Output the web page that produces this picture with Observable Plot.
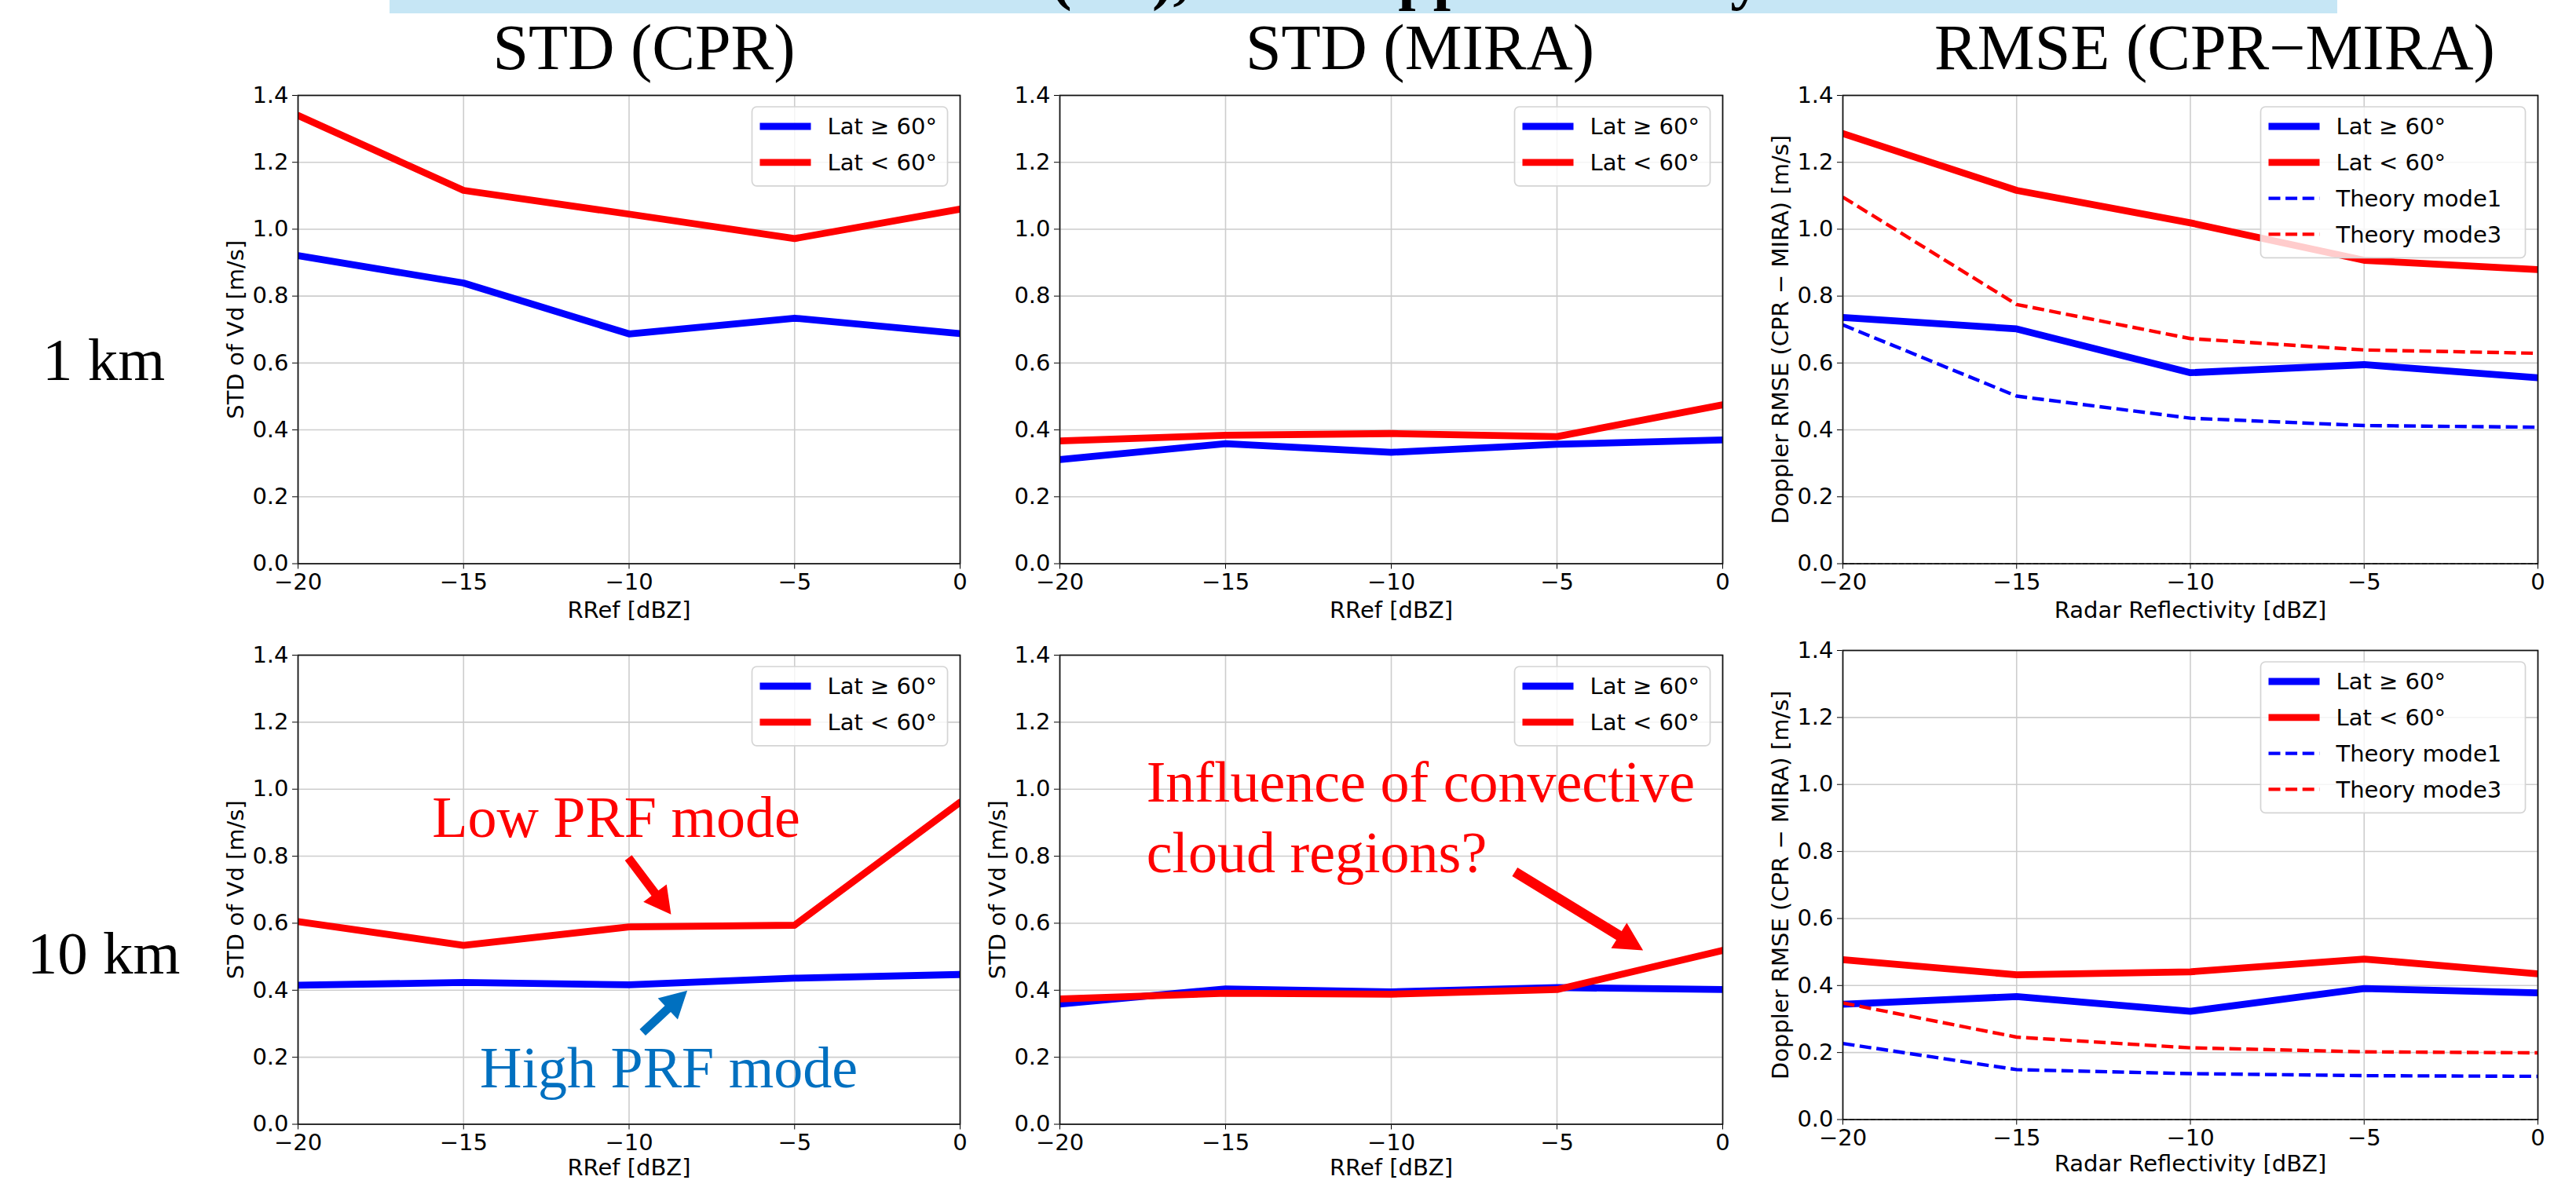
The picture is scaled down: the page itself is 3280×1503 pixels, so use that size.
<!DOCTYPE html>
<html><head><meta charset="utf-8">
<script src="https://cdn.jsdelivr.net/npm/d3@7"></script>
<script src="https://cdn.jsdelivr.net/npm/@observablehq/plot@0.6"></script>
<style>
html,body{margin:0;padding:0;background:#fff;}
#page{position:relative;width:3280px;height:1503px;overflow:hidden;background:#fff;}
</style></head><body><div id="page"></div>
<script>
// ---------- data ----------
const dbz = [-20, -15, -10, -5, 0];
const yTicks = [0, 0.2, 0.4, 0.6, 0.8, 1.0, 1.2, 1.4];
const zeroRef = [0];
const seriesLabels = ["Lat ≥ 60°", "Lat < 60°", "Theory mode1", "Theory mode3"];
const columnTitles = ["STD (CPR)", "STD (MIRA)", "RMSE (CPR−MIRA)"];
const rowLabels = ["1 km", "10 km"];
const xLabels = ["RRef [dBZ]", "RRef [dBZ]", "Radar Reflectivity [dBZ]"];
const yLabels = ["STD of Vd [m/s]", "STD of Vd [m/s]", "Doppler RMSE (CPR − MIRA) [m/s]"];
const bannerText = "(Vd), and Doppler velocity";

// 1 km
const stdCpr1High = [0.921, 0.839, 0.687, 0.734, 0.688];
const stdCpr1Low = [1.340, 1.116, 1.045, 0.972, 1.060];
const stdMira1High = [0.311, 0.359, 0.333, 0.357, 0.370];
const stdMira1Low = [0.367, 0.384, 0.389, 0.380, 0.475];
const rmse1High = [0.736, 0.702, 0.571, 0.595, 0.556];
const rmse1Low = [1.286, 1.116, 1.019, 0.907, 0.879];
const rmse1Mode1 = [0.714, 0.501, 0.435, 0.413, 0.408];
const rmse1Mode3 = [1.096, 0.775, 0.673, 0.639, 0.629];
// 10 km
const stdCpr10High = [0.415, 0.423, 0.416, 0.436, 0.447];
const stdCpr10Low = [0.605, 0.534, 0.589, 0.594, 0.961];
const stdMira10High = [0.359, 0.404, 0.395, 0.408, 0.402];
const stdMira10Low = [0.374, 0.391, 0.388, 0.402, 0.519];
const rmse10High = [0.344, 0.367, 0.323, 0.391, 0.378];
const rmse10Low = [0.477, 0.432, 0.441, 0.479, 0.435];
const rmse10Mode1 = [0.227, 0.149, 0.137, 0.131, 0.129];
const rmse10Mode3 = [0.348, 0.246, 0.214, 0.202, 0.199];

// annotations (data coordinates: dBZ, m/s)
const lowPrfText = [{text: "Low PRF mode", x: -10.39, y: 0.857}];
const highPrfText = [{text: "High PRF mode", x: -8.80, y: 0.109}];
const lowPrfArrow = [{x1: -10.01, y1: 0.794, x2: -8.72, y2: 0.625}];
const highPrfArrow = [{x1: -9.58, y1: 0.273, x2: -8.23, y2: 0.398}];
const convText = [{text: "Influence of convective", x: -17.39, y: 0.962}, {text: "cloud regions?", x: -17.39, y: 0.752}];
const convArrow = [{x1: -6.26, y1: 0.752, x2: -2.39, y2: 0.518}];

// ---------- styles ----------
const BLUE = "#0000ff", RED = "#ff0000", ANN_BLUE = "#0070c0";
const NS = "http://www.w3.org/2000/svg";
const SOLID_W = 8.8, DASH_W = 4.4, DASH = "15,6.6";
const page = document.getElementById("page");

function el(tag, attrs, text) {
  const e = document.createElementNS(NS, tag);
  for (const k in attrs) e.setAttribute(k, attrs[k]);
  if (text != null) e.textContent = text;
  return e;
}

function legendMark(entries, boxW) {
  return (index, scales, values, dims) => {
    const g = el("g", {});
    const right = dims.width - dims.marginRight - 15.5;
    const top = dims.marginTop + 15;
    const left = right - boxW;
    const step = 45.8;
    const h = 25 + (entries.length - 1) * step + 30;
    g.appendChild(el("rect", {x: left, y: top, width: boxW, height: h, rx: 6, ry: 6,
      fill: "white", "fill-opacity": 0.8, stroke: "#d4d4d4", "stroke-width": 1.7}));
    entries.forEach((e, i) => {
      const cy = top + 25 + i * step;
      const line = el("line", {x1: left + 10, x2: left + 75, y1: cy, y2: cy, stroke: e.color,
        "stroke-width": e.dash ? DASH_W : SOLID_W});
      if (e.dash) line.setAttribute("stroke-dasharray", DASH);
      g.appendChild(line);
      g.appendChild(el("text", {x: left + 96, y: cy, dy: "0.36em", "font-size": 29, fill: "black",
        "text-anchor": "start", "font-family": "DejaVu Sans, sans-serif"}, e.label));
    });
    return g;
  };
}

function arrowMark(data, color, shaft, headW, headL) {
  return (index, scales, values, dims) => {
    const g = el("g", {});
    for (const a of data) {
      const x1 = scales.x(a.x1), y1 = scales.y(a.y1), x2 = scales.x(a.x2), y2 = scales.y(a.y2);
      const dx = x2 - x1, dy = y2 - y1, L = Math.hypot(dx, dy);
      const ux = dx / L, uy = dy / L, nx = -uy, ny = ux;
      const bx = x2 - ux * headL, by = y2 - uy * headL, s = shaft / 2, hw = headW / 2;
      const pts = [[x1 + nx * s, y1 + ny * s], [bx + nx * s, by + ny * s], [bx + nx * hw, by + ny * hw],
        [x2, y2], [bx - nx * hw, by - ny * hw], [bx - nx * s, by - ny * s], [x1 - nx * s, y1 - ny * s]];
      g.appendChild(el("path", {d: "M" + pts.map(p => p[0].toFixed(2) + "," + p[1].toFixed(2)).join("L") + "Z", fill: color}));
    }
    return g;
  };
}

function seriesLine(values, color, dashed) {
  return Plot.line(values, {x: (d, i) => dbz[i], y: d => d, stroke: color,
    strokeWidth: dashed ? DASH_W : SOLID_W, strokeDasharray: dashed ? DASH : null,
    strokeLinejoin: "round", strokeLinecap: dashed ? "butt" : "round", clip: true});
}

function panel(opts) {
  const mL = 130, mR = 24, mT = 20, mB = 90;
  const marks = [
    Plot.ruleX(dbz, {stroke: "#cdcdcd", strokeWidth: 1.6}),
    Plot.ruleY(yTicks, {stroke: "#cdcdcd", strokeWidth: 1.6}),
    ...(opts.zero ? [Plot.ruleY(zeroRef, {stroke: "#404040", strokeWidth: 1.6, strokeDasharray: "6,3"})] : []),
    ...opts.lines,
    Plot.frame({stroke: "#111", strokeWidth: 1.7}),
    legendMark(opts.legend, opts.legendW),
    ...(opts.extra || []),
    Plot.text([opts.xLabel], {frameAnchor: "bottom", dy: opts.xdy, text: d => d, fontSize: 29,
      textAnchor: "middle", lineAnchor: "middle", fill: "black"})
  ];
  if (opts.yLabel) marks.push(Plot.text([opts.yLabel], {frameAnchor: "left", dx: -79, rotate: -90, text: d => d,
    fontSize: 29, textAnchor: "middle", lineAnchor: "middle", fill: "black"}));
  const svg = Plot.plot({
    width: opts.w + mL + mR, height: opts.h + mT + mB,
    marginLeft: mL, marginRight: mR, marginTop: mT, marginBottom: mB,
    style: {background: "transparent", fontFamily: "'DejaVu Sans', sans-serif", fontSize: "29px", color: "black", overflow: "visible"},
    x: {domain: [-20, 0], ticks: dbz, tickFormat: d3.format("d"), tickSize: 7, tickPadding: 5, label: null},
    y: {domain: [0, 1.4], ticks: yTicks, tickFormat: d3.format(".1f"), tickSize: 7, tickPadding: 5, label: null},
    marks
  });
  svg.style.position = "absolute";
  svg.style.left = (opts.left - mL) + "px";
  svg.style.top = (opts.top - mT) + "px";
  page.appendChild(svg);
}

const legend2 = [{label: seriesLabels[0], color: BLUE}, {label: seriesLabels[1], color: RED}];
const legend4 = [...legend2, {label: seriesLabels[2], color: BLUE, dash: true}, {label: seriesLabels[3], color: RED, dash: true}];

const serifFont = "'Liberation Serif', 'Times New Roman', serif";

// Row 1 (1 km)
panel({left: 379, top: 120.5, w: 843, h: 596.5, xdy: 60, xLabel: xLabels[0], yLabel: yLabels[0], legend: legend2, legendW: 249,
  lines: [seriesLine(stdCpr1High, BLUE), seriesLine(stdCpr1Low, RED)]});
panel({left: 1349, top: 120.5, w: 844, h: 596.5, xdy: 60, xLabel: xLabels[1], yLabel: null, legend: legend2, legendW: 249,
  lines: [seriesLine(stdMira1High, BLUE), seriesLine(stdMira1Low, RED)]});
panel({left: 2346, top: 120.5, w: 885, h: 596.5, xdy: 60, xLabel: xLabels[2], yLabel: yLabels[2], legend: legend4, legendW: 337, zero: true,
  lines: [seriesLine(rmse1High, BLUE), seriesLine(rmse1Low, RED), seriesLine(rmse1Mode1, BLUE, true), seriesLine(rmse1Mode3, RED, true)]});

// Row 2 (10 km)
panel({left: 379, top: 834, w: 843, h: 597.5, xdy: 56, xLabel: xLabels[0], yLabel: yLabels[0], legend: legend2, legendW: 249,
  lines: [seriesLine(stdCpr10High, BLUE), seriesLine(stdCpr10Low, RED)],
  extra: [
    Plot.text(lowPrfText, {x: "x", y: "y", text: "text", fill: RED, fontSize: 74, fontFamily: serifFont, textAnchor: "middle", lineAnchor: "bottom"}),
    Plot.text(highPrfText, {x: "x", y: "y", text: "text", fill: ANN_BLUE, fontSize: 74, fontFamily: serifFont, textAnchor: "middle", lineAnchor: "bottom"}),
    arrowMark(lowPrfArrow, RED, 11, 37, 34),
    arrowMark(highPrfArrow, ANN_BLUE, 11, 37, 34)
  ]});
panel({left: 1349, top: 834, w: 844, h: 597.5, xdy: 56, xLabel: xLabels[1], yLabel: yLabels[1], legend: legend2, legendW: 249,
  lines: [seriesLine(stdMira10High, BLUE), seriesLine(stdMira10Low, RED)],
  extra: [
    Plot.text(convText, {x: "x", y: "y", text: "text", fill: RED, fontSize: 74, fontFamily: serifFont, textAnchor: "start", lineAnchor: "bottom"}),
    arrowMark(convArrow, RED, 13, 38, 36)
  ]});
panel({left: 2346, top: 828, w: 885, h: 597.5, xdy: 57, xLabel: xLabels[2], yLabel: yLabels[2], legend: legend4, legendW: 337, zero: true,
  lines: [seriesLine(rmse10High, BLUE), seriesLine(rmse10Low, RED), seriesLine(rmse10Mode1, BLUE, true), seriesLine(rmse10Mode3, RED, true)]});

// ---------- page-level text ----------
const over = el("svg", {width: 3280, height: 1503, style: "position:absolute;left:0;top:0;pointer-events:none;"});
const defs = el("defs", {});
const cp = el("clipPath", {id: "bandclip"});
cp.appendChild(el("rect", {x: 496, y: 0, width: 2480, height: 17}));
defs.appendChild(cp);
over.appendChild(defs);
over.appendChild(el("rect", {x: 496, y: 0, width: 2480, height: 17, fill: "#c6e6f5"}));
const bandG = el("g", {"clip-path": "url(#bandclip)"});
bandG.appendChild(el("text", {x: 1338, y: -3, "text-anchor": "start", "font-family": serifFont, "font-weight": "bold", "font-size": 80, fill: "black"}, bannerText));
over.appendChild(bandG);
const titleX = [820, 1808, 2820];
columnTitles.forEach((t, i) => over.appendChild(el("text", {x: titleX[i], y: 88, "text-anchor": "middle",
  "font-family": serifFont, "font-size": 82, fill: "black"}, t)));
const rowY = [484, 1240];
rowLabels.forEach((t, i) => over.appendChild(el("text", {x: 132, y: rowY[i], "text-anchor": "middle",
  "font-family": serifFont, "font-size": 77, fill: "black"}, t)));
page.appendChild(over);
</script></body></html>
